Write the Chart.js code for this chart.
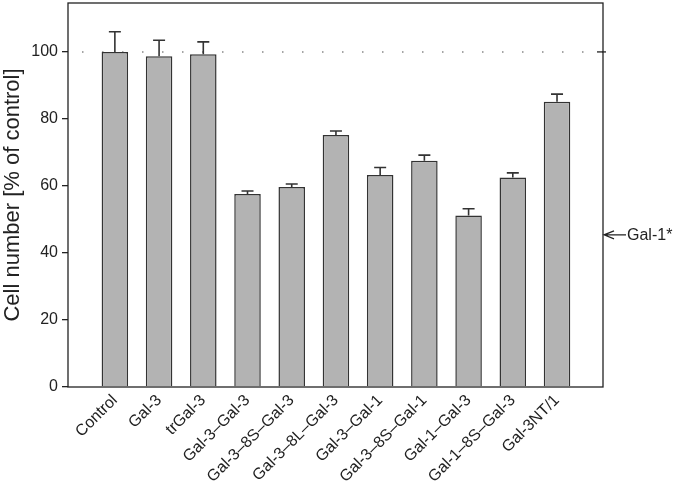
<!DOCTYPE html>
<html>
<head>
<meta charset="utf-8">
<script src="https://cdn.jsdelivr.net/npm/chart.js@4.4.0/dist/chart.umd.min.js"></script>
<style>
  html, body { margin: 0; padding: 0; background: #fff; }
  #wrap { width: 677px; height: 486px; }
</style>
</head>
<body>
<div id="wrap"><canvas id="cells"></canvas></div>
<script>
const categories = ["Control", "Gal-3", "trGal-3", "Gal-3–Gal-3", "Gal-3–8S–Gal-3", "Gal-3–8L–Gal-3",
  "Gal-3–Gal-1", "Gal-3–8S–Gal-1", "Gal-1–Gal-3", "Gal-1–8S–Gal-3", "Gal-3NT/1"];
const cellNumber = [100, 98.7, 99.3, 57.6, 59.7, 75.2, 63.3, 67.5, 51.2, 62.5, 85.1];
const errUp = [6.0, 4.8, 3.7, 0.9, 0.9, 1.2, 2.2, 1.7, 2.0, 1.4, 2.3];
const yTicks = [0, 20, 40, 60, 80, 100];
const refLine = 100;
const gal1Mark = 45.4;
const gal1Label = "Gal-1*";

const ink = "#222";
const font = "'Liberation Sans', Arial, sans-serif";

const extras = {
  id: "extras",
  beforeDatasetsDraw(chart) {
    const { ctx, chartArea: a, scales: { y } } = chart;
    const py = y.getPixelForValue(refLine);
    ctx.save();
    ctx.strokeStyle = "#888";
    ctx.lineWidth = 1.5;
    ctx.setLineDash([1.5, 18.5]);
    ctx.beginPath();
    ctx.moveTo(a.left + 14, py);
    ctx.lineTo(a.right, py);
    ctx.stroke();
    ctx.restore();
  },
  afterDatasetsDraw(chart) {
    const { ctx, chartArea: a, scales: { x, y } } = chart;
    ctx.save();
    ctx.strokeStyle = "#333";
    ctx.lineWidth = 1.6;
    cellNumber.forEach((v, i) => {
      const px = x.getPixelForValue(i);
      const y0 = y.getPixelForValue(v);
      const y1 = y.getPixelForValue(v + errUp[i]);
      ctx.beginPath();
      ctx.moveTo(px, y0);
      ctx.lineTo(px, y1);
      ctx.moveTo(px - 6, y1);
      ctx.lineTo(px + 6, y1);
      ctx.stroke();
    });
    // frame
    ctx.strokeStyle = ink;
    ctx.lineWidth = 1.3;
    ctx.strokeRect(a.left, a.top, a.right - a.left, a.bottom - a.top);
    // right tick at 100
    const p100 = y.getPixelForValue(refLine);
    ctx.beginPath();
    ctx.moveTo(a.right - 6, p100);
    ctx.lineTo(a.right + 3, p100);
    ctx.stroke();
    // Gal-1* arrow
    const pg = y.getPixelForValue(gal1Mark);
    ctx.lineWidth = 1.2;
    ctx.beginPath();
    ctx.moveTo(a.right + 1, pg);
    ctx.lineTo(a.right + 23, pg);
    ctx.moveTo(a.right + 11, pg - 4);
    ctx.lineTo(a.right + 1, pg);
    ctx.lineTo(a.right + 11, pg + 4);
    ctx.stroke();
    ctx.fillStyle = ink;
    ctx.font = "16px " + font;
    ctx.textBaseline = "middle";
    ctx.textAlign = "left";
    ctx.fillText(gal1Label, a.right + 24, pg + 1);
    ctx.restore();
  }
};

new Chart(document.getElementById("cells"), {
  type: "bar",
  data: {
    datasets: [{
      data: cellNumber.map((v, i) => ({ x: i, y: v })),
      backgroundColor: "#b3b3b3",
      borderColor: "#333",
      borderWidth: 1.5,
      barPercentage: 0.6,
      categoryPercentage: 1
    }]
  },
  options: {
    responsive: true,
    maintainAspectRatio: false,
    animation: false,
    layout: { padding: { left: 0, top: 3, right: 74, bottom: 0 } },
    plugins: { legend: { display: false }, tooltip: { enabled: false } },
    scales: {
      x: {
        type: "linear",
        offset: false,
        min: -1.06,
        max: 11.04,
        afterBuildTicks: s => { s.ticks = categories.map((_, i) => ({ value: i })); },
        afterFit: s => { s.height = 99; s.paddingLeft = 0; s.paddingRight = 0; },
        grid: { display: false, drawTicks: false, offset: false },
        border: { display: false },
        ticks: {
          autoSkip: false,
          minRotation: 45,
          maxRotation: 45,
          padding: 4,
          color: ink,
          font: { family: font, size: 16 },
          callback: v => categories[v]
        }
      },
      y: {
        min: 0,
        max: 114.6,
        afterBuildTicks: s => { s.ticks = yTicks.map(v => ({ value: v })); },
        afterFit: s => { s.width = 68; s.paddingTop = 0; s.paddingBottom = 0; },
        grid: { drawOnChartArea: false, tickLength: 6, color: ink, lineWidth: 1.3 },
        border: { display: false },
        ticks: {
          padding: 4,
          color: ink,
          font: { family: font, size: 16 }
        },
        title: {
          display: true,
          text: "Cell number [% of control]",
          color: ink,
          padding: { top: 0, bottom: 1 },
          font: { family: font, size: 22 }
        }
      }
    }
  },
  plugins: [extras]
});
</script>
</body>
</html>
